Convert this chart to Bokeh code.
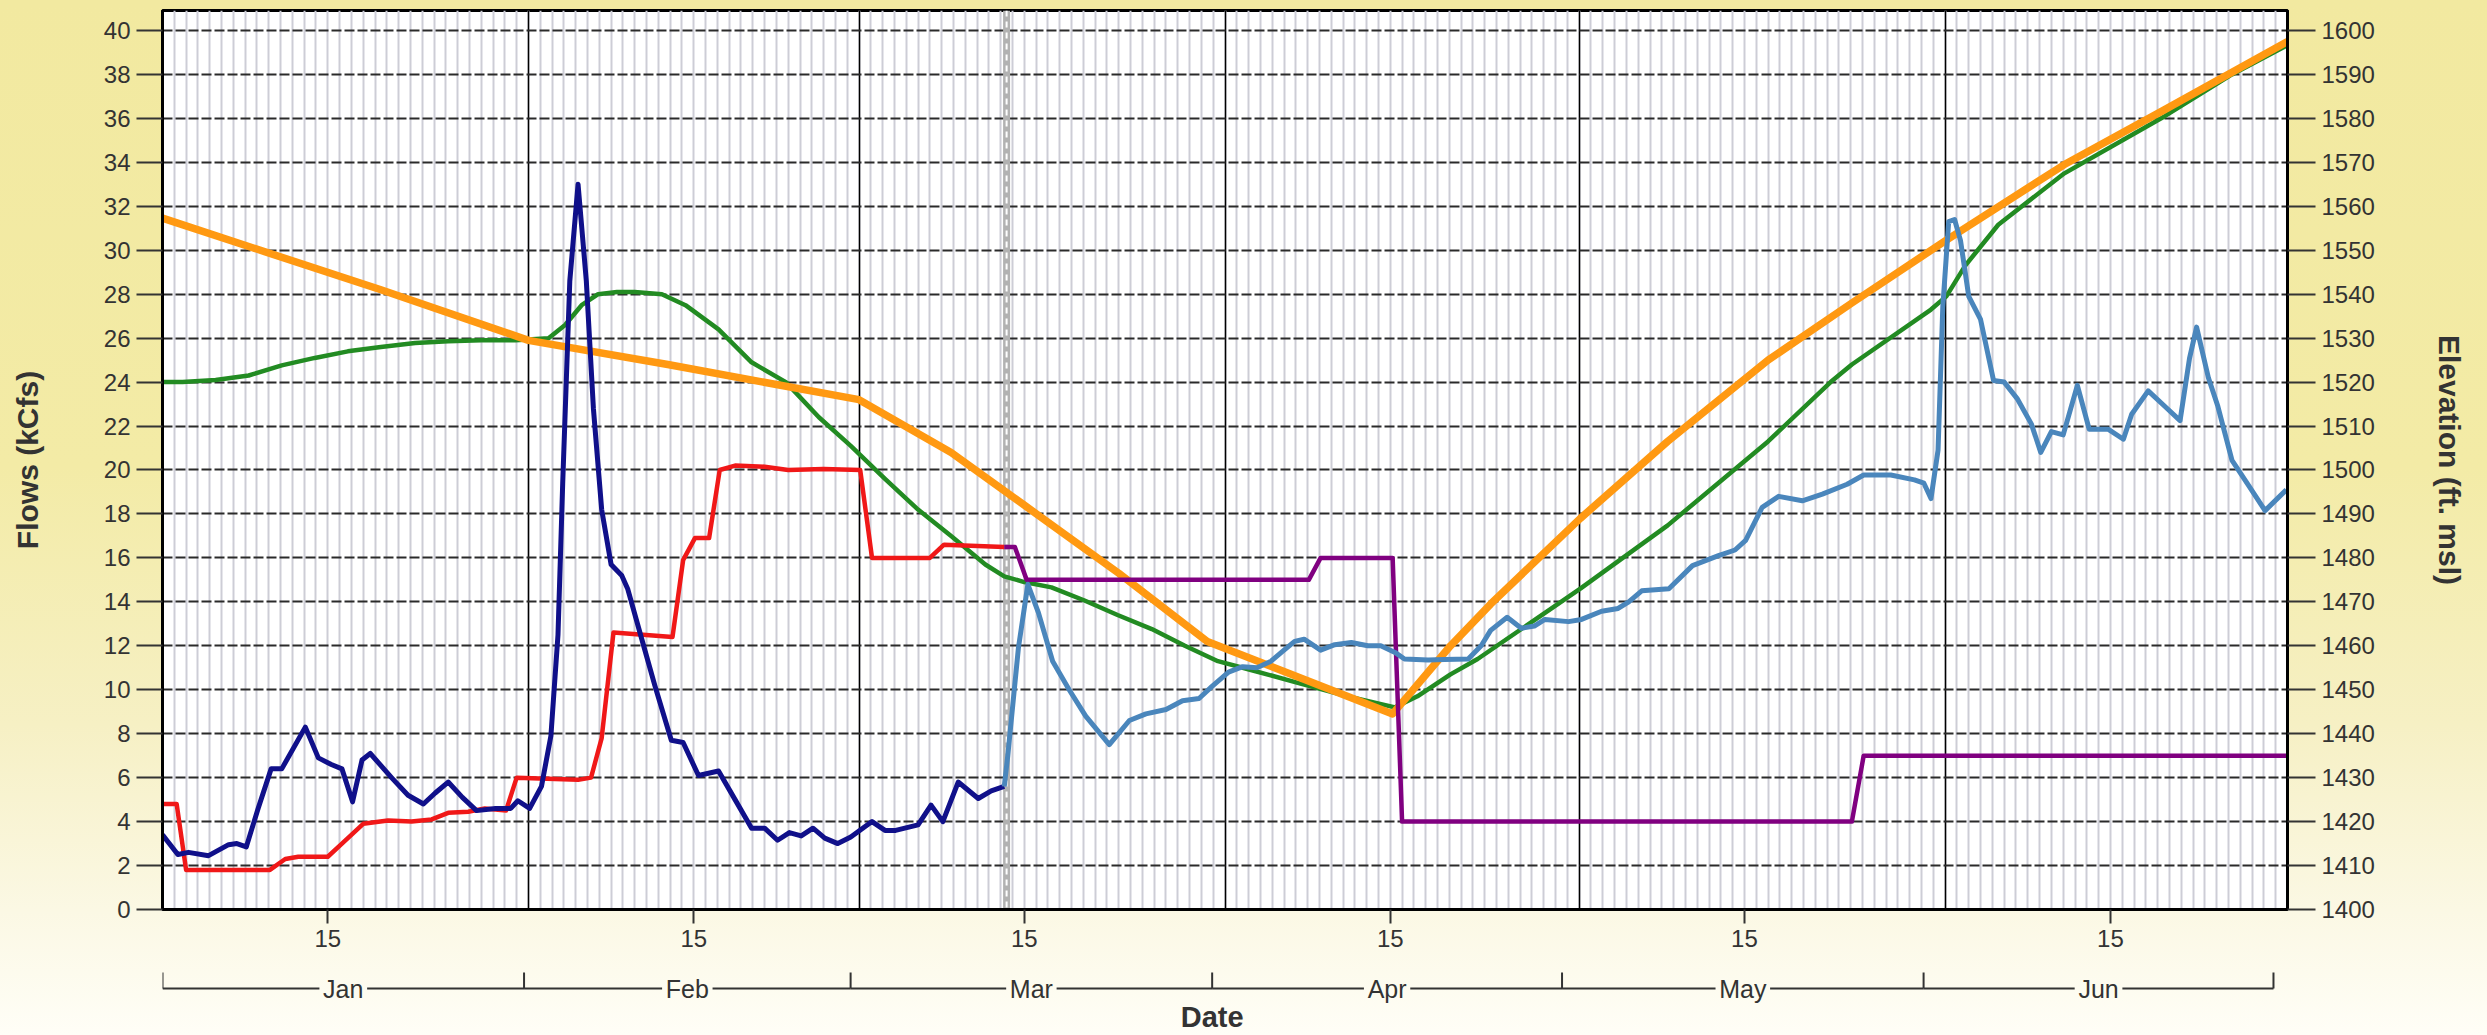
from bokeh.plotting import figure
from bokeh.layouts import column
from bokeh.models import Range1d, LinearAxis, FixedTicker, Span
from bokeh.core.properties import value
from bokeh.embed import file_html
from bokeh.resources import INLINE

# ---------------- data (x = days since Jan 1) ----------------
MONTHS = ["Jan", "Feb", "Mar", "Apr", "May", "Jun"]
MONTH_START = [0, 31, 59, 90, 120, 151, 181]
MONTH_MID = [15.5, 45, 74.5, 105, 135.5, 166]
MID_TICKS = [14, 45, 73, 104, 134, 165]
MID_LABELS = ["15", "15", "15", "15", "15", "15"]
TODAY = 71.5

# observed outflow (kcfs) - dark blue
obs_day = [0, 1.3, 2.2, 3.9, 5.6, 6.3, 7.1, 8.1, 9.2, 10.1, 12.1, 13.2, 14.3, 15.2, 16.1,
           16.9, 17.6, 19.4, 20.8, 22.1, 23.1, 24.2, 25.4, 26.6, 28.2, 29.5, 30.1, 31.1,
           32.1, 32.9, 33.5, 33.9, 34.5, 35.2, 35.9, 36.5, 37.2, 38.0, 38.9, 39.4, 40.6,
           41.7, 43.1, 44.1, 45.4, 47.1, 48.5, 49.9, 51.0, 52.1, 53.1, 54.1, 55.1, 56.1,
           57.2, 58.3, 60.1, 61.2, 62.1, 64.0, 65.1, 66.1, 67.4, 69.1, 70.2, 71.3]
obs_kcfs = [3.4, 2.5, 2.6, 2.45, 2.95, 3.0, 2.85, 4.6, 6.4, 6.4, 8.3, 6.9, 6.6, 6.4, 4.9,
            6.8, 7.1, 6.0, 5.2, 4.8, 5.3, 5.8, 5.1, 4.5, 4.6, 4.6, 4.95, 4.6,
            5.6, 7.9, 12.5, 19.4, 28.6, 33.0, 28.6, 22.8, 18.2, 15.7, 15.2, 14.6, 12.3,
            10.2, 7.7, 7.6, 6.1, 6.3, 5.0, 3.7, 3.7, 3.15, 3.5, 3.35, 3.7, 3.25,
            3.0, 3.3, 4.0, 3.6, 3.6, 3.85, 4.75, 4.0, 5.8, 5.05, 5.4, 5.6]

# forecast flow (kcfs) - steel blue
fc_day = [71.3, 71.6, 72.5, 73.3, 74.2, 75.4, 76.8, 78.2, 80.2, 81.9, 83.3, 85.0, 86.4,
          87.8, 88.9, 90.3, 91.5, 92.7, 93.9, 95.0, 95.9, 96.7, 98.1, 99.3, 100.7, 102.1,
          103.2, 104.4, 105.2, 107.2, 108.6, 110.6, 111.7, 112.5, 113.9, 115.1, 116.2,
          117.1, 119.1, 120.2, 121.9, 123.3, 124.2, 125.3, 127.6, 129.6, 131.8, 133.2,
          134.1, 135.5, 136.9, 138.9, 140.6, 142.7, 144.1, 146.4, 148.4, 149.2, 149.8,
          150.4, 150.8, 151.3, 151.8, 152.3, 153.0, 154.0, 155.1, 156.0, 157.1, 158.3,
          159.1, 160.0, 161.0, 162.2, 163.2, 164.8, 166.1, 166.8, 168.2, 169.6, 170.9,
          171.7, 172.3, 173.3, 174.1, 175.3, 176.7, 178.1, 179.9]
fc_kcfs = [5.6, 7.0, 11.9, 14.8, 13.5, 11.3, 10.0, 8.8, 7.5, 8.6, 8.9, 9.1, 9.5,
           9.6, 10.15, 10.8, 11.05, 11.0, 11.3, 11.8, 12.2, 12.3, 11.8, 12.05, 12.15, 12.0,
           12.0, 11.7, 11.4, 11.35, 11.38, 11.4, 12.0, 12.7, 13.3, 12.8, 12.9,
           13.2, 13.1, 13.2, 13.57, 13.7, 14.0, 14.5, 14.6, 15.65, 16.1, 16.36,
           16.8, 18.3, 18.8, 18.6, 18.9, 19.35, 19.77, 19.77, 19.55, 19.4, 18.7,
           20.9, 27.4, 31.3, 31.4, 30.45, 27.9, 26.85, 24.07, 24.0, 23.25, 22.1,
           20.8, 21.75, 21.6, 23.85, 21.86, 21.86, 21.4, 22.54, 23.6, 22.9, 22.25,
           25.08, 26.5, 24.2, 22.9, 20.44, 19.3, 18.15, 19.1]

# release (kcfs) - red
red_day = [0, 1.2, 2.0, 9.1, 10.4, 11.5, 14.0, 15.2, 17.0, 19.1, 21.1, 22.8, 24.2, 25.9,
           27.3, 29.1, 30.0, 35.2, 36.3, 37.2, 38.2, 43.2, 44.1, 45.1, 46.3, 47.2, 48.5,
           51.0, 53.0, 56.0, 59.1, 60.1, 65.0, 66.2, 71.3]
red_kcfs = [4.8, 4.8, 1.8, 1.8, 2.3, 2.4, 2.4, 3.0, 3.9, 4.05, 4.0, 4.1, 4.4, 4.45,
            4.6, 4.5, 6.0, 5.9, 6.0, 7.8, 12.6, 12.4, 15.9, 16.9, 16.9, 20.0, 20.2,
            20.15, 20.0, 20.05, 20.0, 16.0, 16.0, 16.6, 16.5]

# planned release (kcfs) - purple
pur_day = [71.3, 72.2, 73.2, 97.1, 98.1, 104.2, 105.0, 143.1, 144.1, 180]
pur_kcfs = [16.5, 16.5, 15.0, 15.0, 16.0, 16.0, 4.0, 4.0, 7.0, 7.0]

# reservoir elevation (ft msl) - green
elev_day = [0, 1.7, 4.5, 7.3, 10.1, 12.9, 15.7, 18.5, 21.4, 24.2, 27.0, 29.9, 32.7, 34.1,
            35.5, 36.9, 38.5, 40.0, 42.3, 44.3, 47.1, 49.9, 52.8, 55.6, 58.3, 61.2, 64.0,
            66.8, 69.7, 71.3, 73.0, 75.3, 78.1, 80.9, 83.8, 86.6, 89.4, 92.2, 96.4, 100.7,
            104.4, 106.3, 109.1, 111.4, 120.1, 127.5, 136.0, 141.3, 143.1, 149.8, 151.1,
            152.7, 155.5, 161.1, 169.6, 175.3, 179.9]
elev_ft = [1520.0, 1520.0, 1520.5, 1521.5, 1523.8, 1525.5, 1527.0, 1528.0, 1528.9, 1529.3,
           1529.5, 1529.5, 1530.0, 1533.0, 1537.5, 1540.0, 1540.5, 1540.5, 1540.0, 1537.5,
           1532.0, 1524.5, 1520.0, 1512.0, 1505.5, 1498.0, 1491.0, 1485.0, 1478.5, 1475.8,
           1474.5, 1473.3, 1470.3, 1467.0, 1463.8, 1460.0, 1456.5, 1454.5, 1451.4, 1448.3,
           1446.0, 1448.5, 1453.5, 1457.0, 1473.0, 1487.4, 1506.5, 1520.0, 1524.0, 1536.5,
           1539.5, 1546.5, 1555.8, 1567.5, 1580.5, 1590.0, 1596.5]

# rule curve elevation (ft msl) - orange
rule_day = [0, 18.5, 31, 42.8, 59, 66.8, 73, 81, 88.5, 104.2, 109.1, 112.5, 120.1, 127.5,
            136.0, 143.1, 151.1, 161.1, 169.6, 180]
rule_ft = [1557.3, 1541.0, 1529.5, 1524.0, 1516.0, 1504.0, 1492.0, 1476.5, 1461.0, 1444.5,
           1460.0, 1469.5, 1489.0, 1506.5, 1525.0, 1538.0, 1552.3, 1569.5, 1582.0, 1597.5]

FLOW_TICKS = list(range(0, 41, 2))
ELEV_TICKS = list(range(1400, 1601, 10))

# ---------------- styling ----------------
FONT = "Liberation Sans"
TXT = "#333333"
W = 2487
H_MAIN = 960
H_DATE = 75
GRADIENT = ("linear-gradient(to bottom, #F2E9A0 0%, #F3EBA6 45%, #F6F0C4 70%, "
            "#FBF8E4 88%, #FFFEF7 100%)")

p = figure(width=W, height=H_MAIN, x_range=Range1d(0, 180), y_range=Range1d(0, 40.91),
           output_backend="svg", toolbar_location=None, title=None,
           min_border_left=162, min_border_right=200, min_border_top=10, min_border_bottom=51)
p.extra_y_ranges = {"elev": Range1d(1400, 1604.55)}
p.background_fill_color = "white"
p.border_fill_color = None
p.outline_line_color = "black"
p.outline_line_width = 3

# grids
p.xgrid.ticker = FixedTicker(ticks=MONTH_START[1:-1], minor_ticks=list(range(1, 180)))
p.xgrid.grid_line_color = "black"
p.xgrid.grid_line_width = 1.5
p.xgrid.minor_grid_line_color = "#CDCDD6"
p.xgrid.minor_grid_line_width = 2
p.ygrid.ticker = FixedTicker(ticks=FLOW_TICKS[1:])
p.ygrid.grid_line_color = "#2A2A2A"
p.ygrid.grid_line_width = 2
p.ygrid.grid_line_dash = "10 3"


def style_axis(ax, tick_out):
    ax.major_tick_out = tick_out
    ax.major_tick_in = 0
    ax.major_tick_line_width = 2
    ax.major_tick_line_color = TXT
    ax.minor_tick_line_color = None
    ax.axis_line_width = 3
    ax.axis_line_color = "black"
    ax.major_label_text_font = FONT
    ax.major_label_text_font_size = "24px"
    ax.major_label_text_color = TXT
    ax.major_label_standoff = 6
    ax.axis_label_text_font = FONT
    ax.axis_label_text_font_style = "bold"
    ax.axis_label_text_font_size = "30px"
    ax.axis_label_text_color = TXT


ya = p.yaxis[0]
ya.ticker = FixedTicker(ticks=FLOW_TICKS)
style_axis(ya, 26)
ya.axis_label = "Flows (kCfs)"
ya.axis_label_standoff = 57

yr = LinearAxis(y_range_name="elev", ticker=FixedTicker(ticks=ELEV_TICKS))
style_axis(yr, 28)
yr.axis_label = "Elevation (ft. msl)"
yr.axis_label_standoff = 55
p.add_layout(yr, "right")

xa = p.xaxis[0]
xa.ticker = FixedTicker(ticks=MID_TICKS)
xa.major_label_overrides = {t: l for t, l in zip(MID_TICKS, MID_LABELS)}
style_axis(xa, 14)

# current-date marker
p.add_layout(Span(location=TODAY, dimension="height", line_color="#B2B2B2", line_width=7,
                  level="underlay"))
p.add_layout(Span(location=TODAY, dimension="height", line_color="white", line_width=2,
                  line_dash="6 5", level="underlay"))

# series
p.line(elev_day, elev_ft, y_range_name="elev", line_color="#228B22", line_width=4.5, line_join="round")
p.line(rule_day, rule_ft, y_range_name="elev", line_color="#FF9912", line_width=7.5, line_join="round")
p.line(red_day, red_kcfs, line_color="#F01818", line_width=4.5, line_join="round")
p.line(pur_day, pur_kcfs, line_color="#800080", line_width=4.5, line_join="round")
p.line(obs_day, obs_kcfs, line_color="#10108A", line_width=5, line_join="round")
p.line(fc_day, fc_kcfs, line_color="#4A86BC", line_width=5, line_join="round")

# ---------------- month bracket strip (shares the day scale) ----------------
px_per_day = (W - 162 - 200) / 180.0
q = figure(width=W, height=H_DATE, x_range=Range1d(0, (W - 162 - 174) / px_per_day),
           y_range=Range1d(0, H_DATE), output_backend="svg", toolbar_location=None, title=None,
           x_axis_type=None, y_axis_type=None,
           min_border_left=162, min_border_right=174, min_border_top=0, min_border_bottom=0)
q.background_fill_color = None
q.border_fill_color = None
q.outline_line_color = None
q.grid.visible = False

BR_Y = H_DATE - 28
BR_TOP = BR_Y + 16
DATE_Y = H_DATE - 56
CHAR_EM = {"J": .5, "a": .556, "n": .556, "F": .611, "e": .556, "b": .556, "M": .833,
           "r": .333, "A": .667, "p": .556, "y": .5, "u": .556}
x0s, x1s = [], []
for i, name in enumerate(MONTHS):
    half = (sum(CHAR_EM.get(c, .56) for c in name) * 25 / 2 + 4) / px_per_day
    x0s += [MONTH_START[i], MONTH_MID[i] + half]
    x1s += [MONTH_MID[i] - half, MONTH_START[i + 1]]
q.segment(x0=x0s, y0=[BR_Y] * len(x0s), x1=x1s, y1=[BR_Y] * len(x1s),
          line_color=TXT, line_width=2)
q.segment(x0=MONTH_START, y0=[BR_Y] * 7, x1=MONTH_START, y1=[BR_TOP] * 7,
          line_color=TXT, line_width=2)
q.text(x=MONTH_MID, y=[BR_Y] * 6, text=MONTHS, text_font=value(FONT), text_font_size="25px",
       text_color=TXT, text_align="center", text_baseline="middle")
q.text(x=[(p.x_range.start + p.x_range.end) / 2], y=[DATE_Y], text=["Date"],
       text_font=value(FONT), text_font_size="29px", text_font_style="bold",
       text_color=TXT, text_align="center", text_baseline="middle")

layout = column(p, q, spacing=0, styles={"background": GRADIENT})
open("out.html", "w").write(file_html(layout, INLINE))
